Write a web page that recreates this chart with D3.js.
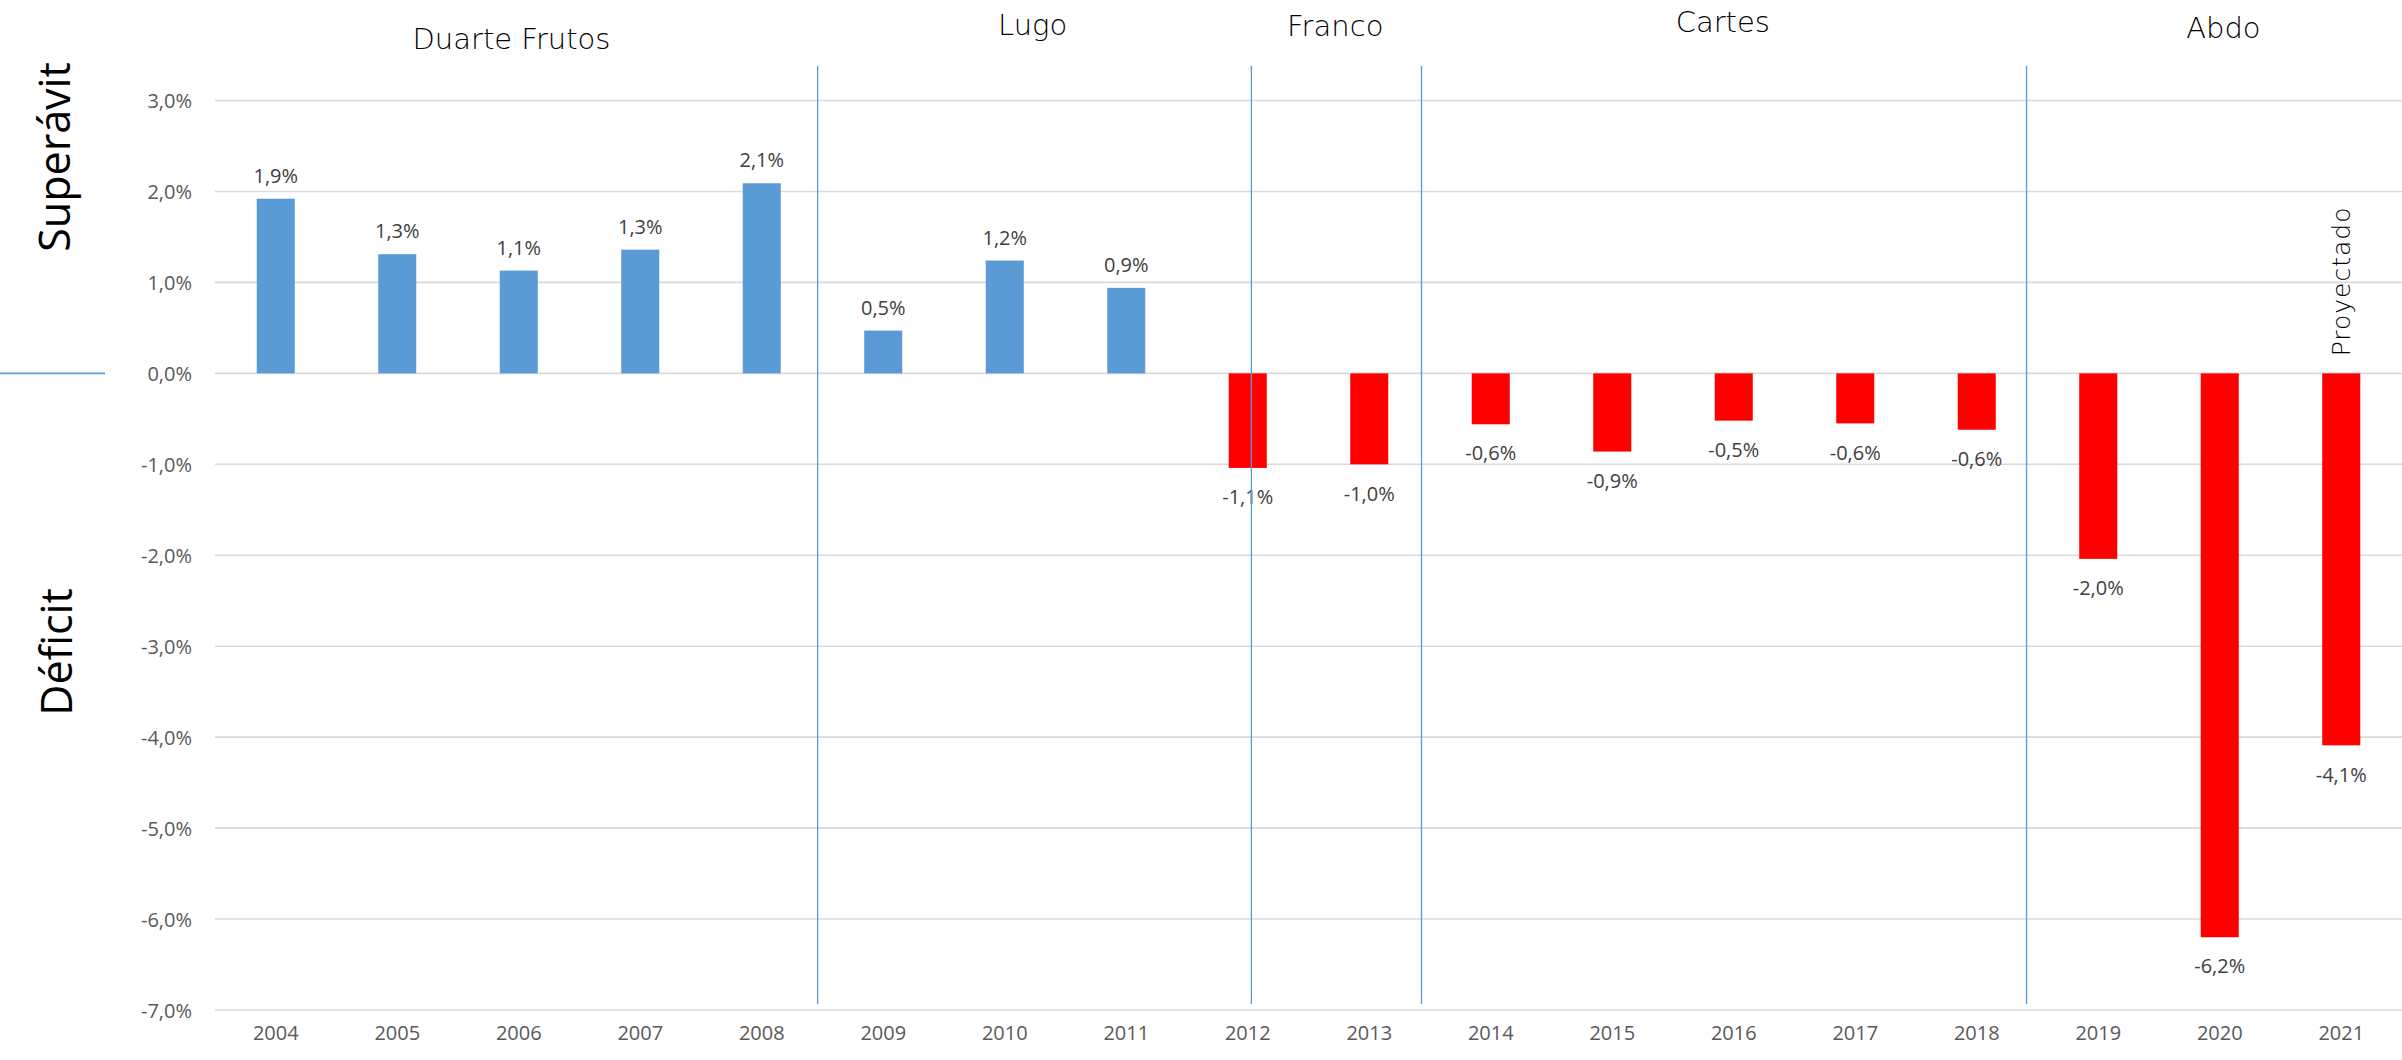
<!DOCTYPE html>
<html>
<head>
<meta charset="utf-8">
<script src="https://cdn.jsdelivr.net/npm/d3@7"></script>
<style>
  html, body { margin: 0; padding: 0; background: #ffffff; }
  svg { display: block; }
</style>
</head>
<body>
<svg id="chart" width="2402" height="1060"></svg>
<script>
// ---------------- DATA ----------------
const years = ["2004","2005","2006","2007","2008","2009","2010","2011","2012","2013","2014","2015","2016","2017","2018","2019","2020","2021"];
const balance = [1.92, 1.31, 1.13, 1.36, 2.09, 0.47, 1.24, 0.94, -1.04, -1.00, -0.56, -0.86, -0.52, -0.55, -0.62, -2.04, -6.20, -4.09];
const balanceLabels = [1.9, 1.3, 1.1, 1.3, 2.1, 0.5, 1.2, 0.9, -1.1, -1.0, -0.6, -0.9, -0.5, -0.6, -0.6, -2.0, -6.2, -4.1];
const yTicks = [3, 2, 1, 0, -1, -2, -3, -4, -5, -6, -7];
const governments = ["Duarte Frutos", "Lugo", "Franco", "Cartes", "Abdo"];
const separatorYears = ["2008", "2012", "2013", "2018"];
const projectedYear = "2021";
const projectedText = "Proyectado";
const axisTitles = ["Superávit", "Déficit"];

// ---------------- LAYOUT ----------------
const plot = { left: 215, right: 2402, top: 100.5, bottom: 1010 };
const govTitleAt = [1.94, 6.23, 8.72, 11.91, 16.03];      // band-index position of each title
const govTitleBaseline = [49, 35, 36, 32, 38];
const separatorOffset = [0.46, 0.03, 0.43, 0.41];          // fraction of a step past the year centre

const blue = "#5b9bd5", red = "#ff0000";
const locale = d3.formatLocale({ decimal: ",", thousands: ".", grouping: [3], currency: ["", ""], minus: "-" });
const fmt = locale.format(".1f");

const svg = d3.select("#chart");

const x = d3.scaleBand().domain(years).range([plot.left, plot.right])
  .paddingInner(0.687).paddingOuter(0.3435).align(0.5);
const y = d3.scaleLinear().domain([-7, 3]).range([plot.bottom, plot.top]);
const step = x.step();
const cx = d => x(d) + x.bandwidth() / 2;

// gridlines
svg.append("g").selectAll("line").data(yTicks).join("line")
  .attr("x1", plot.left).attr("x2", plot.right)
  .attr("y1", d => y(d)).attr("y2", d => y(d))
  .attr("stroke", "#d9d9d9").attr("stroke-width", 1.6);

// y axis labels
const yAxis = d3.axisLeft(y).tickValues(yTicks).tickSize(0).tickPadding(0)
  .tickFormat(d => fmt(d) + "%");
const gy = svg.append("g").attr("transform", `translate(192,0)`).call(yAxis);
gy.select(".domain").remove();
gy.selectAll("text").attr("font-family", "'Open Sans', sans-serif").attr("font-size", 20)
  .attr("fill", "#595959").attr("dy", "0.36em");

// x axis labels
const xAxis = d3.axisBottom(x).tickSize(0).tickPadding(0);
const gx = svg.append("g").attr("transform", `translate(0,1026)`).call(xAxis);
gx.select(".domain").remove();
gx.selectAll("text").attr("font-family", "'Open Sans', sans-serif").attr("font-size", 20)
  .attr("fill", "#595959").attr("dy", "0.71em");

// bars
svg.append("g").selectAll("rect").data(years).join("rect")
  .attr("x", d => x(d))
  .attr("width", x.bandwidth())
  .attr("y", (d, i) => y(Math.max(0, balance[i])))
  .attr("height", (d, i) => Math.abs(y(balance[i]) - y(0)))
  .attr("fill", (d, i) => balance[i] >= 0 ? blue : red);

// data labels
svg.append("g").selectAll("text").data(years).join("text")
  .attr("x", d => cx(d))
  .attr("y", (d, i) => balance[i] >= 0 ? y(balance[i]) - 23 : y(balance[i]) + 29)
  .attr("dy", "0.36em")
  .attr("text-anchor", "middle")
  .attr("font-family", "'Open Sans', sans-serif").attr("font-size", 20)
  .attr("fill", "#404040")
  .text((d, i) => fmt(balanceLabels[i]) + "%");

// separators between governments
svg.append("g").selectAll("line").data(separatorYears).join("line")
  .attr("x1", (d, i) => cx(d) + separatorOffset[i] * step)
  .attr("x2", (d, i) => cx(d) + separatorOffset[i] * step)
  .attr("y1", 66).attr("y2", 1004)
  .attr("stroke", blue).attr("stroke-width", 1.3);

// government titles
svg.append("g").selectAll("text").data(governments).join("text")
  .attr("x", (d, i) => cx(years[0]) + govTitleAt[i] * step)
  .attr("y", (d, i) => govTitleBaseline[i])
  .attr("text-anchor", "middle")
  .attr("font-family", "'DejaVu Sans', sans-serif").attr("font-weight", 300)
  .attr("font-size", 29)
  .attr("fill", "#000")
  .text(d => d);

// Proyectado
svg.append("text")
  .attr("transform", `translate(${cx(projectedYear) + 9},${y(0) - 17}) rotate(-90)`)
  .attr("text-anchor", "start")
  .attr("font-family", "'DejaVu Sans', sans-serif").attr("font-weight", 300)
  .attr("font-size", 25).attr("letter-spacing", 1)
  .attr("fill", "#000")
  .text(projectedText);

// side axis titles
svg.append("text")
  .attr("transform", `translate(70,157) rotate(-90)`)
  .attr("text-anchor", "middle")
  .attr("font-family", "'Open Sans', sans-serif").attr("font-size", 43)
  .attr("fill", "#000")
  .text(axisTitles[0]);
svg.append("text")
  .attr("transform", `translate(72,652) rotate(-90)`)
  .attr("text-anchor", "middle")
  .attr("font-family", "'Open Sans', sans-serif").attr("font-size", 43)
  .attr("fill", "#000")
  .text(axisTitles[1]);

// short zero marker at left
svg.append("line")
  .attr("x1", 0).attr("x2", 105).attr("y1", y(0)).attr("y2", y(0))
  .attr("stroke", blue).attr("stroke-width", 1.6);
</script>
</body>
</html>
